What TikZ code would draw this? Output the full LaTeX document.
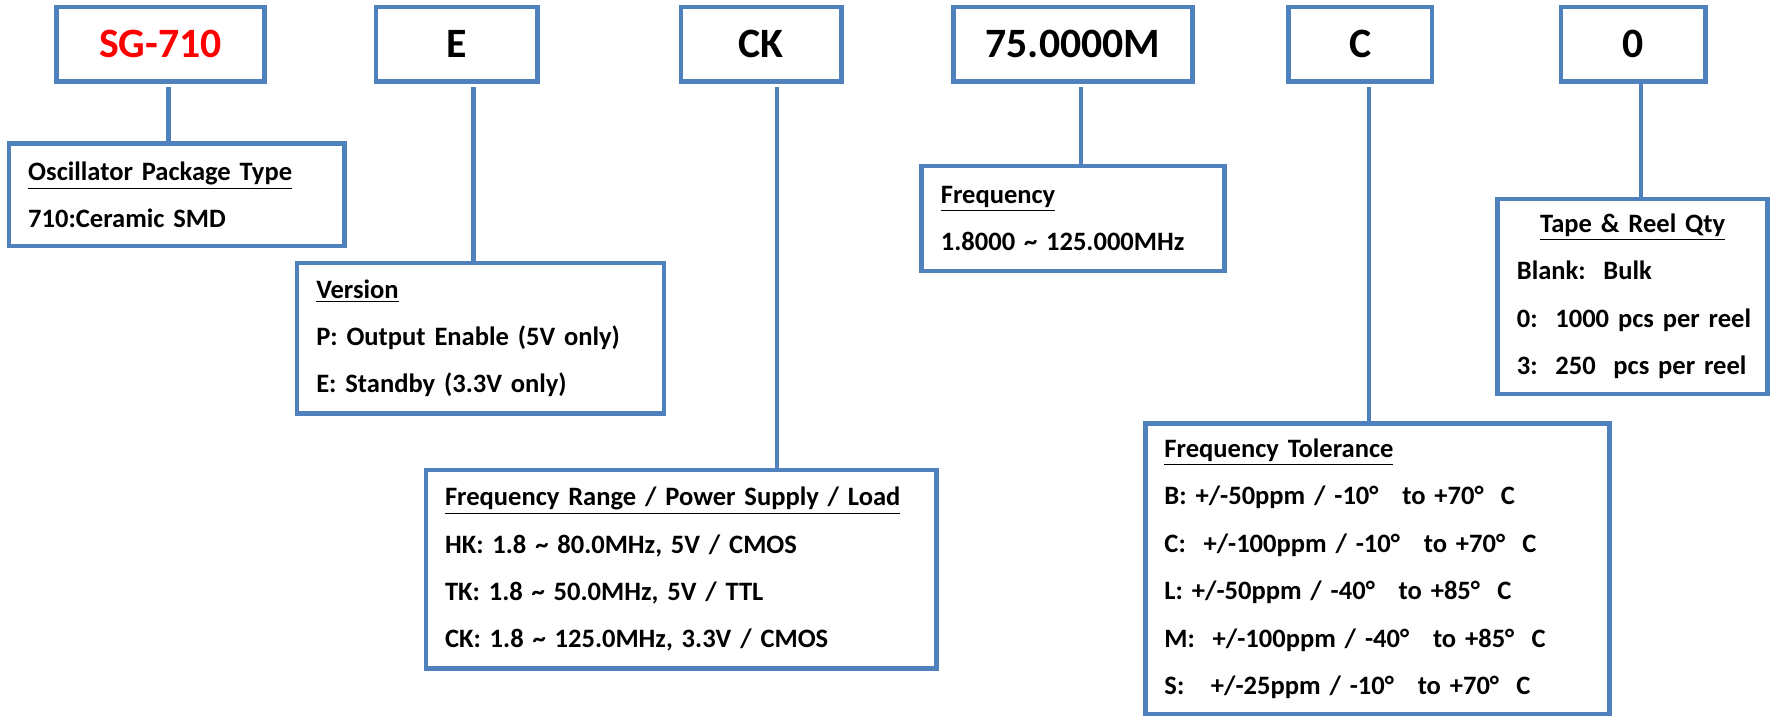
\documentclass[tikz,border=0pt]{standalone}
\usepackage{fontspec}
\setmainfont{Carlito}
\usepackage{tikz}
\definecolor{boxblue}{RGB}{79,129,189}
\definecolor{partred}{RGB}{255,0,0}
\newcommand{\infofont}{\fontsize{11.75}{21}\selectfont\bfseries\spaceskip=2.4pt\relax}
\tikzstyle{part}=[draw=boxblue,line width=2pt,inner sep=0pt,minimum height=33pt,font=\fontsize{18.5}{22}\selectfont\bfseries]
\tikzstyle{info}=[draw=boxblue,line width=2pt,inner xsep=8.5pt,inner ysep=0pt,align=left,font=\infofont]
\tikzstyle{link}=[draw=boxblue,line width=2pt]
\newcommand{\degsp}{°\hspace{0.9em}}
\newcommand{\degC}{°\hspace{0.65em}C}

\begin{document}
\begin{tikzpicture}[x=0.5pt,y=-0.5pt]
\useasboundingbox (0,0) rectangle (1568,636);
% part number fields
\node[part,minimum width=92pt,text=partred] (sg) at (142,39) {SG-710};
\node[part,minimum width=71.5pt] (ver) at (404.5,39) {E};
\node[part,minimum width=71pt] (rng) at (674,39) {CK};
\node[part,minimum width=106pt] (frq) at (950,39) {75.0000M};
\node[part,minimum width=63.5pt] (tol) at (1204.5,39) {C};
\node[part,minimum width=64pt] (qty) at (1446,39) {0};
% explanations
\node[info,text width=131.5pt,minimum height=45.5pt] (sgI) at (156.5,172.5) {\underline{Oscillator Package Type}\\
710:Ceramic SMD};
\node[info,text width=145.5pt,minimum height=66.5pt] (verI) at (425.5,299.5) {\underline{Version}\\
P: Output Enable (5V only)\\
E: Standby (3.3V only)};
\node[info,text width=209pt,minimum height=88pt] (rngI) at (603,504) {\underline{Frequency Range / Power Supply / Load}\\
HK: 1.8 \textasciitilde\ 80.0MHz, 5V / CMOS\\
TK: 1.8 \textasciitilde\ 50.0MHz, 5V / TTL\\
CK: 1.8 \textasciitilde\ 125.0MHz, 3.3V / CMOS};
\node[info,text width=117pt,minimum height=46.5pt] (frqI) at (950,193.5) {\underline{Frequency}\\
1.8000 \textasciitilde\ 125.000MHz};
\node[info,text width=188.5pt,minimum height=128.5pt] (tolI) at (1219.5,503.5) {\underline{Frequency Tolerance}\\
B: +/-50ppm / -10\degsp to +70\degC\\
C:\ \ +/-100ppm / -10\degsp to +70\degC\\
L: +/-50ppm / -40\degsp to +85\degC\\
M:\ \ +/-100ppm / -40\degsp to +85\degC\\
S:\ \ \ +/-25ppm / -10\degsp to +70\degC};
\node[info,text width=102.5pt,minimum height=86.5pt] (qtyI) at (1445.5,262.5) {\makebox[102.5pt][c]{\underline{Tape \& Reel Qty}}\\
\mbox{Blank:\ \ Bulk}\\
\mbox{0:\ \ 1000 pcs per reel}\\
\mbox{3:\ \ 250\ \ pcs per reel}};
% connectors
\coordinate (sgA) at (149,77);
\coordinate (verA) at (419,77);
\coordinate (rngA) at (688,77);
\coordinate (frqA) at (957,77);
\coordinate (tolA) at (1212,77);
\coordinate (qtyA) at (1453,72);
\draw[link] (sgA) -- (sgA |- sgI.north);
\draw[link] (verA) -- (verA |- verI.north);
\draw[link] (rngA) -- (rngA |- rngI.north);
\draw[link] (frqA) -- (frqA |- frqI.north);
\draw[link] (tolA) -- (tolA |- tolI.north);
\draw[link] (qtyA) -- (qtyA |- qtyI.north);
\end{tikzpicture}
\end{document}
